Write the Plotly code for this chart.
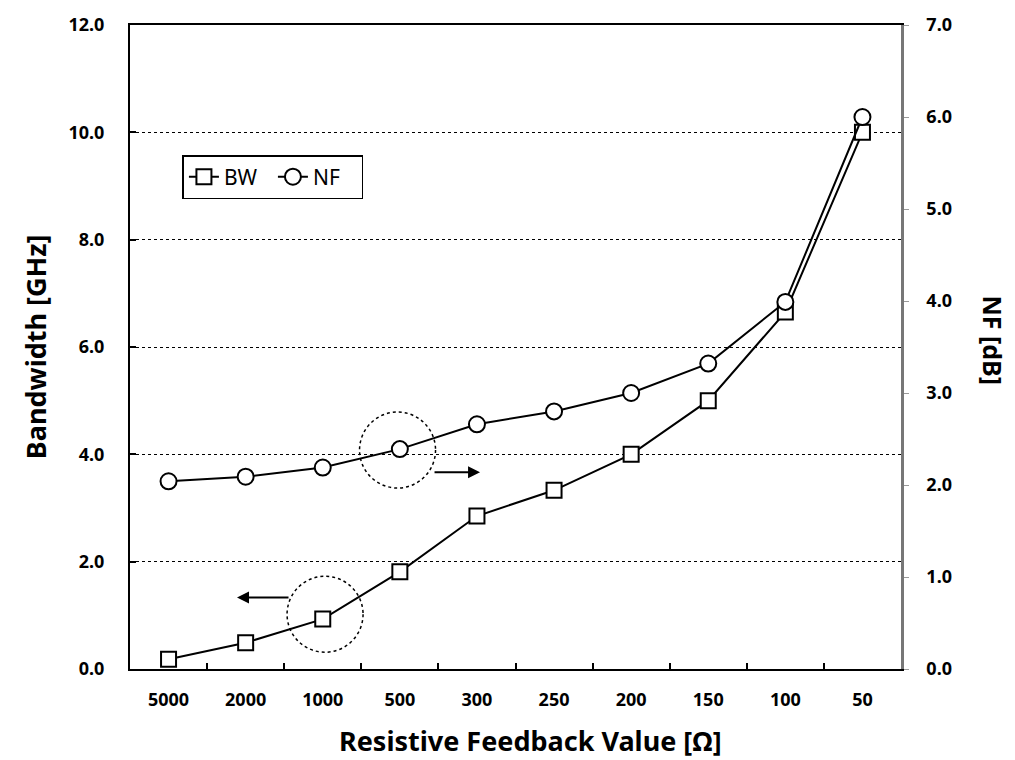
import plotly.graph_objects as go

categories = ["5000", "2000", "1000", "500", "300", "250", "200", "150", "100", "50"]
bw_ghz = [0.18, 0.49, 0.93, 1.81, 2.85, 3.33, 4.0, 5.0, 6.65, 10.0]
nf_db = [2.04, 2.09, 2.19, 2.39, 2.66, 2.80, 3.0, 3.32, 3.99, 6.0]
left_ticks = [0, 2, 4, 6, 8, 10, 12]
right_ticks = [0, 1, 2, 3, 4, 5, 6, 7]

FONT = "Noto Sans"

fig = go.Figure()
fig.add_trace(go.Scatter(
    x=categories, y=bw_ghz, name="BW", mode="lines+markers",
    line=dict(color="black", width=2),
    marker=dict(symbol="square", size=15, color="white", line=dict(color="black", width=2)),
    yaxis="y",
))
fig.add_trace(go.Scatter(
    x=categories, y=nf_db, name="NF", mode="lines+markers",
    line=dict(color="black", width=2),
    marker=dict(symbol="circle", size=16, color="white", line=dict(color="black", width=2)),
    yaxis="y2",
))

tickfont = dict(family=FONT, size=18, color="black", weight="bold")

fig.update_layout(
    width=1015, height=760,
    margin=dict(l=130, r=114, t=20, b=91),
    paper_bgcolor="white", plot_bgcolor="white",
    font=dict(family=FONT, color="black"),
    xaxis=dict(
        type="category", categoryorder="array", categoryarray=categories,
        range=[-0.5, len(categories) - 0.5],
        showline=True, linecolor="black", linewidth=2, mirror=True,
        ticks="inside", ticklen=6, tickcolor="black", tickwidth=1.5,
        tickson="boundaries", showgrid=False, tickfont=tickfont,
        ticklabelstandoff=13,
    ),
    yaxis=dict(
        range=[0, 12], tickvals=left_ticks,
        ticktext=[f"{v:.1f}" for v in left_ticks],
        showline=True, linecolor="black", linewidth=2,
        ticks="inside", ticklen=6, tickcolor="black", tickwidth=1.5,
        showgrid=True, gridcolor="black", gridwidth=1, griddash="dot",
        zeroline=False, tickfont=tickfont, ticklabelstandoff=20,
    ),
    yaxis2=dict(
        range=[0, 7], tickvals=right_ticks,
        ticktext=[f"{v:.1f}" for v in right_ticks],
        overlaying="y", side="right",
        showline=True, linecolor="#777777", linewidth=2.5,
        ticks="outside", ticklen=5, tickcolor="#999999", tickwidth=1,
        showgrid=False, zeroline=False, tickfont=tickfont, ticklabelstandoff=14,
    ),
    legend=dict(
        orientation="h", x=0.068, y=0.798, xanchor="left", yanchor="top",
        bordercolor="black", borderwidth=1.5, bgcolor="white",
        font=dict(family=FONT, size=21, color="black"),
        entrywidth=44, entrywidthmode="pixels",
    ),
    showlegend=True,
)

# Axis titles
fig.add_annotation(text="Bandwidth [GHz]", xref="paper", yref="paper",
                   x=-0.123, y=0.5, textangle=-90, showarrow=False,
                   xanchor="center", yanchor="middle",
                   font=dict(family=FONT, size=27, color="black", weight="bold"))
fig.add_annotation(text="NF [dB]", xref="paper", yref="paper",
                   x=1.12, y=0.511, textangle=90, showarrow=False,
                   xanchor="center", yanchor="middle",
                   font=dict(family=FONT, size=25, color="black", weight="bold"))
fig.add_annotation(text="Resistive Feedback Value [Ω]", xref="paper", yref="paper",
                   x=0.519, y=-0.111, showarrow=False,
                   xanchor="center", yanchor="middle",
                   font=dict(family=FONT, size=27, color="black", weight="bold"))

# Dotted circles highlighting series/axis association
r = 38
fig.add_shape(type="circle", xref="x", yref="y2", xsizemode="pixel", ysizemode="pixel",
              xanchor=2.97, yanchor=nf_db[3] - 0.01, x0=-r, x1=r, y0=-r, y1=r,
              line=dict(color="black", width=1.5, dash="dot"))
fig.add_shape(type="circle", xref="x", yref="y", xsizemode="pixel", ysizemode="pixel",
              xanchor=2.03, yanchor=bw_ghz[2] + 0.09, x0=-r, x1=r, y0=-r, y1=r,
              line=dict(color="black", width=1.5, dash="dot"))

# Arrows
fig.add_annotation(xref="paper", yref="paper", x=0.454, y=0.3055, ax=-47, ay=0,
                   text="", showarrow=True, arrowhead=2, arrowsize=1.2,
                   arrowwidth=2, arrowcolor="black")
fig.add_annotation(xref="paper", yref="paper", x=0.1388, y=0.111, ax=53, ay=0,
                   text="", showarrow=True, arrowhead=2, arrowsize=1.2,
                   arrowwidth=2, arrowcolor="black")

fig.write_html("out.html")
